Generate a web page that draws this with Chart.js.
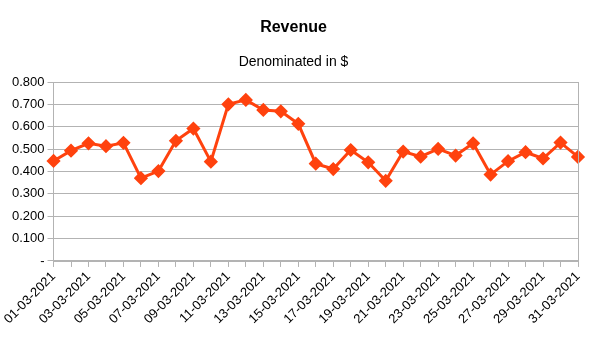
<!DOCTYPE html>
<html>
<head>
<meta charset="utf-8">
<script src="https://cdn.jsdelivr.net/npm/chart.js@4/dist/chart.umd.min.js"></script>
<style>
    html, body { margin: 0; padding: 0; background: #fff; }
    #wrap { width: 605px; height: 340px; }
</style>
</head>
<body>
<div id="wrap"><canvas id="revenueChart"></canvas></div>
<script>
const dates = [
    '01-03-2021', '02-03-2021', '03-03-2021', '04-03-2021', '05-03-2021', '06-03-2021', '07-03-2021', '08-03-2021',
    '09-03-2021', '10-03-2021', '11-03-2021', '12-03-2021', '13-03-2021', '14-03-2021', '15-03-2021', '16-03-2021',
    '17-03-2021', '18-03-2021', '19-03-2021', '20-03-2021', '21-03-2021', '22-03-2021', '23-03-2021', '24-03-2021',
    '25-03-2021', '26-03-2021', '27-03-2021', '28-03-2021', '29-03-2021', '30-03-2021', '31-03-2021'
];
const revenue = [
    0.447, 0.493, 0.526, 0.513, 0.528, 0.370, 0.402, 0.537,
    0.592, 0.444, 0.700, 0.720, 0.675, 0.669, 0.613, 0.435,
    0.411, 0.496, 0.441, 0.358, 0.489, 0.466, 0.501, 0.471,
    0.526, 0.386, 0.446, 0.486, 0.458, 0.529, 0.465
];
const yTicks = [0, 0.1, 0.2, 0.3, 0.4, 0.5, 0.6, 0.7, 0.8];

const gridGrey = '#b3b3b3';
const lineColour = '#ff420e';

// right hand frame line of the plot area
const frameRight = {
    id: 'frameRight',
    afterDraw(chart) {
        const { ctx, chartArea } = chart;
        ctx.save();
        ctx.strokeStyle = gridGrey;
        ctx.lineWidth = 1;
        ctx.beginPath();
        ctx.moveTo(Math.round(chartArea.right) + 0.5, chartArea.top);
        ctx.lineTo(Math.round(chartArea.right) + 0.5, chartArea.bottom);
        ctx.stroke();
        ctx.restore();
    }
};

Chart.defaults.font.family = '"Liberation Sans", Arial, sans-serif';
Chart.defaults.color = '#000';

new Chart(document.getElementById('revenueChart').getContext('2d'), {
    type: 'line',
    data: {
        labels: dates,
        datasets: [{
            label: 'Revenue',
            data: revenue,
            borderColor: lineColour,
            backgroundColor: lineColour,
            borderWidth: 3,
            pointStyle: 'rectRot',
            pointRadius: 5,
            pointHoverRadius: 5,
            tension: 0
        }]
    },
    options: {
        responsive: true,
        maintainAspectRatio: false,
        animation: false,
        layout: { padding: { left: 9, right: 27, top: 0, bottom: 11 } },
        scales: {
            x: {
                offset: false,
                grid: { display: true, drawOnChartArea: false, drawTicks: true, tickLength: 6, color: gridGrey },
                border: { color: gridGrey, width: 2 },
                ticks: {
                    autoSkip: false,
                    maxRotation: 45,
                    minRotation: 45,
                    padding: 2,
                    font: { size: 13 },
                    callback: (val, i) => i % 2 === 0 ? dates[i] : ''
                }
            },
            y: {
                min: 0,
                max: 0.8,
                afterBuildTicks: axis => { axis.ticks = yTicks.map(v => ({ value: v })); },
                grid: { color: gridGrey, tickLength: 6 },
                border: { color: gridGrey },
                ticks: {
                    padding: 3,
                    font: { size: 13 },
                    callback: val => val === 0 ? '-' : val.toFixed(3)
                }
            }
        },
        plugins: {
            legend: { display: false },
            tooltip: { enabled: false },
            title: {
                display: true,
                text: 'Revenue',
                font: { size: 16, weight: 'bold' },
                color: '#000',
                padding: { top: 18, bottom: 14 }
            },
            subtitle: {
                display: true,
                text: 'Denominated in $',
                font: { size: 14 },
                color: '#000',
                padding: { top: 3, bottom: 11 }
            }
        }
    },
    plugins: [frameRight]
});
</script>
</body>
</html>
